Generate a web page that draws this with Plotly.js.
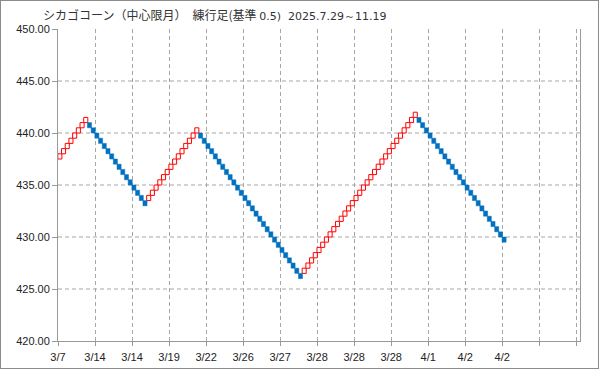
<!DOCTYPE html>
<html>
<head>
<meta charset="utf-8">
<script src="https://cdn.plot.ly/plotly-3.0.1.min.js"></script>
<style>
  html, body { margin: 0; padding: 0; background: #fff; }
  #wrap { position: relative; width: 599px; height: 369px; }
  #chart { width: 599px; height: 369px; }
  #frame { position: absolute; left: 0; top: 0; width: 597px; height: 367px; border: 1px solid #8c8c8c; pointer-events: none; }
</style>
</head>
<body>
<div id="wrap"><div id="chart"></div><div id="frame"></div></div>
<script>
// Renko bricks (box size 0.5): low of each brick and its direction, in order
const brickLow = [
  437.5, 438, 438.5, 439, 439.5, 440, 440.5, 441,
  440.5, 440, 439.5, 439, 438.5, 438, 437.5, 437, 436.5, 436, 435.5, 435, 434.5, 434, 433.5, 433,
  433.5, 434, 434.5, 435, 435.5, 436, 436.5, 437, 437.5, 438, 438.5, 439, 439.5, 440,
  439.5, 439, 438.5, 438, 437.5, 437, 436.5, 436, 435.5, 435, 434.5, 434, 433.5, 433,
  432.5, 432, 431.5, 431, 430.5, 430, 429.5, 429, 428.5, 428, 427.5, 427, 426.5, 426,
  426.5, 427, 427.5, 428, 428.5, 429, 429.5, 430, 430.5, 431, 431.5, 432, 432.5, 433, 433.5, 434,
  434.5, 435, 435.5, 436, 436.5, 437, 437.5, 438, 438.5, 439, 439.5, 440, 440.5, 441, 441.5,
  441, 440.5, 440, 439.5, 439, 438.5, 438, 437.5, 437, 436.5, 436, 435.5, 435, 434.5, 434, 433.5,
  433, 432.5, 432, 431.5, 431, 430.5, 430, 429.5
];
const brickDir = [].concat(
  Array(8).fill('up'), Array(16).fill('down'), Array(14).fill('up'),
  Array(28).fill('down'), Array(31).fill('up'), Array(24).fill('down')
);
const boxSize = 0.5;
const tickPos = [0, 10, 20, 30, 40, 50, 60, 70, 80, 90, 100, 110, 120, 130, 140];
const tickLabels = ['3/7', '3/14', '3/14', '3/19', '3/22', '3/26', '3/27', '3/28', '3/28', '3/28', '4/1', '4/2', '4/2', '', ''];
const yTicks = [420, 425, 430, 435, 440, 445, 450];

const up = { x: [], base: [], y: [] }, dn = { x: [], base: [], y: [] };
brickLow.forEach((lo, i) => {
  const t = brickDir[i] === 'up' ? up : dn;
  t.x.push(i + 0.5); t.base.push(lo); t.y.push(boxSize);
});

const traces = [
  { type: 'bar', x: up.x, base: up.base, y: up.y, width: 1.1,
    marker: { color: 'rgba(255,255,255,1)', line: { color: '#ff0000', width: 1 } },
    hoverinfo: 'skip', showlegend: false },
  { type: 'bar', x: dn.x, base: dn.base, y: dn.y, width: 1.1,
    marker: { color: '#0070c0', line: { color: '#0070c0', width: 0.5 } },
    hoverinfo: 'skip', showlegend: false }
];

const gridColor = '#a6a6a6';
const shapes = yTicks.filter(v => v > 420 && v < 450).map(v => ({
  type: 'line', xref: 'paper', x0: 0, x1: 1, yref: 'y', y0: v, y1: v,
  line: { color: gridColor, width: 1, dash: '4px,3px' }, layer: 'below'
}));

const layout = {
  width: 599, height: 369,
  margin: { l: 58, r: 19, t: 29, b: 28, pad: 0 },
  paper_bgcolor: '#ffffff', plot_bgcolor: '#ffffff',
  barmode: 'overlay',
  title: {
    text: 'シカゴコーン（中心限月）　練行足(基準 <span style="font-family:DejaVu Sans;font-size:11px">0.5)  2025.7.29～11.19</span>',
    x: 43 / 599, xanchor: 'left', xref: 'container',
    y: 1 - 16 / 369, yanchor: 'middle', yref: 'container',
    font: { family: 'Noto Sans CJK JP', size: 12, color: '#333333' }
  },
  xaxis: {
    range: [0, 141], tickmode: 'array', tickvals: tickPos, ticktext: tickLabels,
    showgrid: true, gridcolor: gridColor, griddash: '4px,3px', gridwidth: 1,
    showline: true, linecolor: '#999999', linewidth: 1,
    ticks: 'outside', ticklen: 4, tickcolor: '#999999', ticklabelstandoff: 2,
    zeroline: false, fixedrange: true,
    tickfont: { family: 'Liberation Sans', size: 11, color: '#222222' }
  },
  yaxis: {
    range: [420, 450], tickmode: 'array', tickvals: yTicks, tickformat: '.2f',
    showgrid: false, showline: true, linecolor: '#999999', linewidth: 1, mirror: true,
    ticks: 'outside', ticklen: 5, tickcolor: '#999999',
    zeroline: false, fixedrange: true,
    tickfont: { family: 'Liberation Sans', size: 11, color: '#222222' }
  },
  shapes: shapes
};

Plotly.newPlot('chart', traces, layout, { displayModeBar: false, staticPlot: true });
</script>
</body>
</html>
